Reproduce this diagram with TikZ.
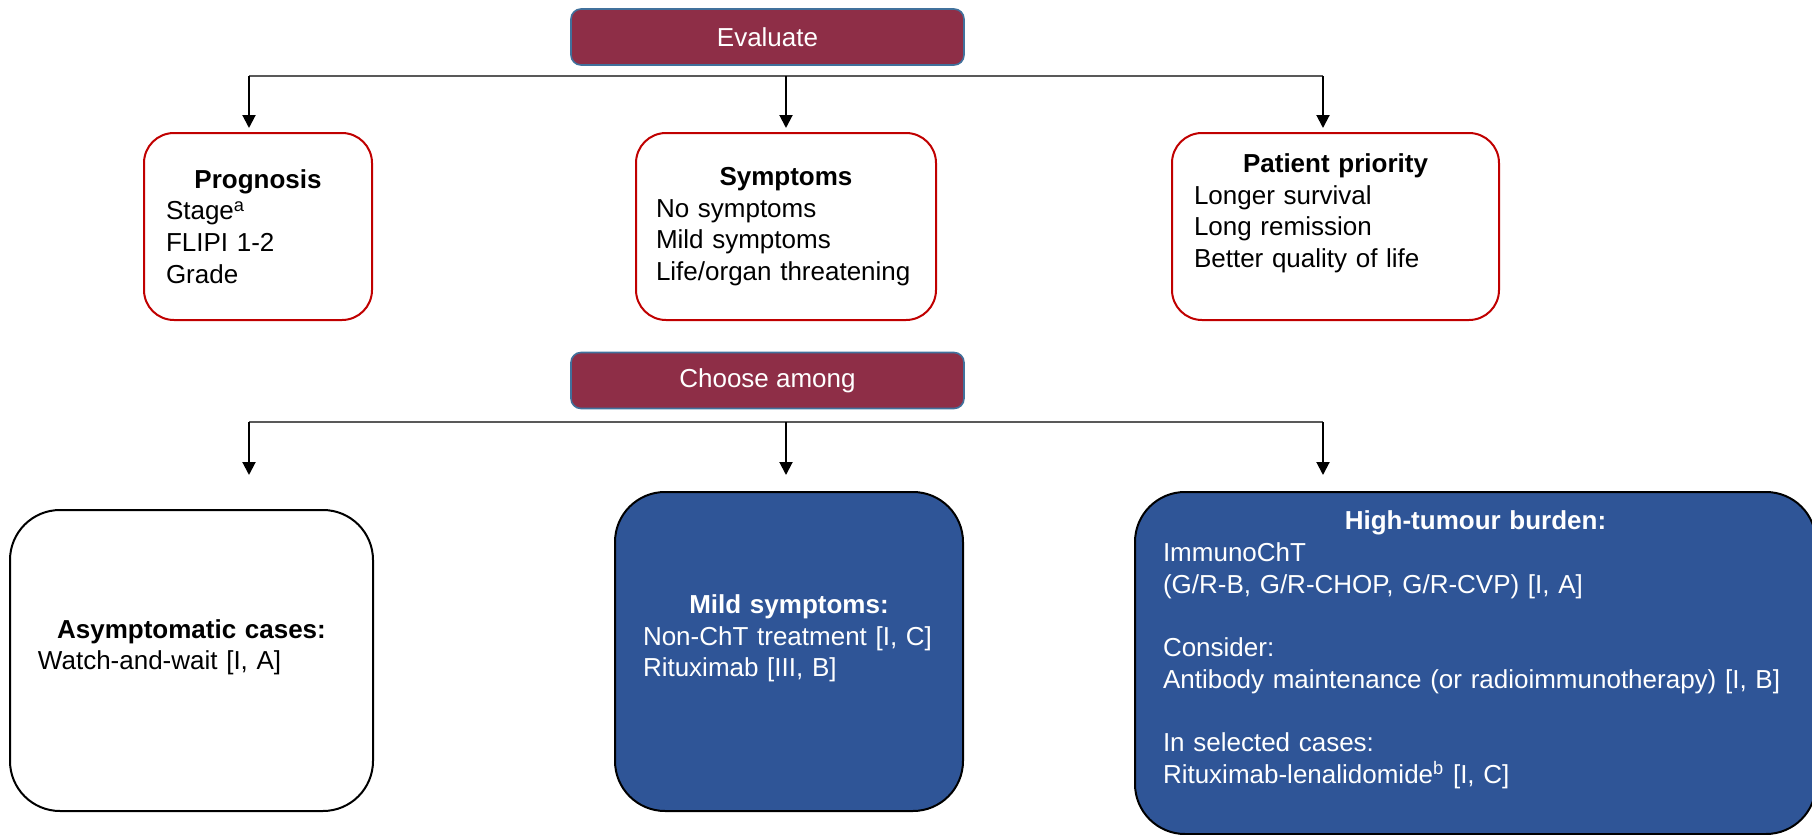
\documentclass[tikz,border=0pt]{standalone}
\usepackage{fontspec}
\setmainfont{Liberation Sans}
\usepackage{xcolor}
\usepackage{tikz}
\usetikzlibrary{arrows.meta, positioning, calc}

\definecolor{headred}{HTML}{8E2E47}
\definecolor{headedge}{HTML}{41719C}
\definecolor{critred}{HTML}{C00000}
\definecolor{optblue}{HTML}{2F5597}
\definecolor{busgray}{HTML}{595959}

\newcommand{\cardtitle}[1]{\makebox[\linewidth]{\bfseries #1}}

\begin{document}
\begin{tikzpicture}[
  x=0.5pt, y=-0.5pt,
  font=\fontsize{13}{15.85}\selectfont,
  head/.style={draw=headedge, line width=0.8pt, fill=headred, text=white, rounded corners=5pt, minimum width=196.5pt, minimum height=28pt},
  crit/.style={draw=critred, line width=1pt, rounded corners=15pt, align=left, inner xsep=11pt, minimum height=93.5pt},
  opt/.style={draw=black, line width=1pt, rounded corners=25pt, align=left, inner xsep=14pt},
  bus/.style={draw=busgray, line width=0.7pt},
  arr/.style={-{Triangle[width=6.5pt,length=6.5pt]}, line width=1pt},
]
\useasboundingbox (0,0) rectangle (1812,835);
\clip (0,0) rectangle (1812,835);

% evaluate
\node[head] (eval) at (767.5,37) {Evaluate};
\node[crit, minimum width=114pt, text width=92pt] (prog) at (258,226.5)
  {\cardtitle{Prognosis}\\ Stage\textsuperscript{a}\\ FLIPI 1-2\\ Grade};
\node[crit, minimum width=150pt, inner xsep=10pt, text width=130pt] (symp) at (786,226.5)
  {\cardtitle{Symptoms}\\ No symptoms\\ Mild symptoms\\ Life/organ threatening};
\node[crit, minimum width=163.5pt, text width=141.5pt] (prio) at (1335.5,226.5)
  {\cardtitle{Patient priority}\\ Longer survival\\ Long remission\\ Better quality of life\\ \mbox{}};

\coordinate (eb1) at (249,76);
\coordinate (eb2) at (786,76);
\coordinate (eb3) at (1323,76);
\coordinate (et1) at (249,128);
\coordinate (et2) at (786,128);
\coordinate (et3) at (1323,128);
\draw[bus] (eb1) -- (eb3);
\draw[arr] (eb1) -- (et1);
\draw[arr] (eb2) -- (et2);
\draw[arr] (eb3) -- (et3);

% choose
\node[head] (choose) at (767.5,380.5) {Choose among};
\node[opt, minimum width=181.5pt, minimum height=150.5pt, text width=153.5pt] (asym) at (191.5,660.5)
  {\cardtitle{Asymptomatic cases:}\\ Watch-and-wait [I, A]\\ \mbox{}};
\node[opt, fill=optblue, text=white, minimum width=174pt, minimum height=159.5pt, text width=146pt] (mild) at (789,651.5)
  {\cardtitle{Mild symptoms:}\\ Non-ChT treatment [I, C]\\ Rituximab [III, B]\\ \mbox{}};
\node[opt, fill=optblue, text=white, minimum width=340.5pt, minimum height=171pt, text width=312.5pt] (high) at (1475.5,663)
  {\cardtitle{High-tumour burden:}\\ ImmunoChT\\ (G/R-B, G/R-CHOP, G/R-CVP) [I, A]\\[15.85pt]
   Consider:\\ Antibody maintenance (or radioimmunotherapy) [I, B]\\[15.85pt]
   In selected cases:\\ Rituximab-lenalidomide\textsuperscript{b} [I, C]\\ \mbox{}};

\coordinate (cb1) at (249,422);
\coordinate (cb2) at (786,422);
\coordinate (cb3) at (1323,422);
\coordinate (ct1) at (249,475);
\coordinate (ct2) at (786,475);
\coordinate (ct3) at (1323,475);
\draw[bus] (cb1) -- (cb3);
\draw[arr] (cb1) -- (ct1);
\draw[arr] (cb2) -- (ct2);
\draw[arr] (cb3) -- (ct3);
\end{tikzpicture}
\end{document}
